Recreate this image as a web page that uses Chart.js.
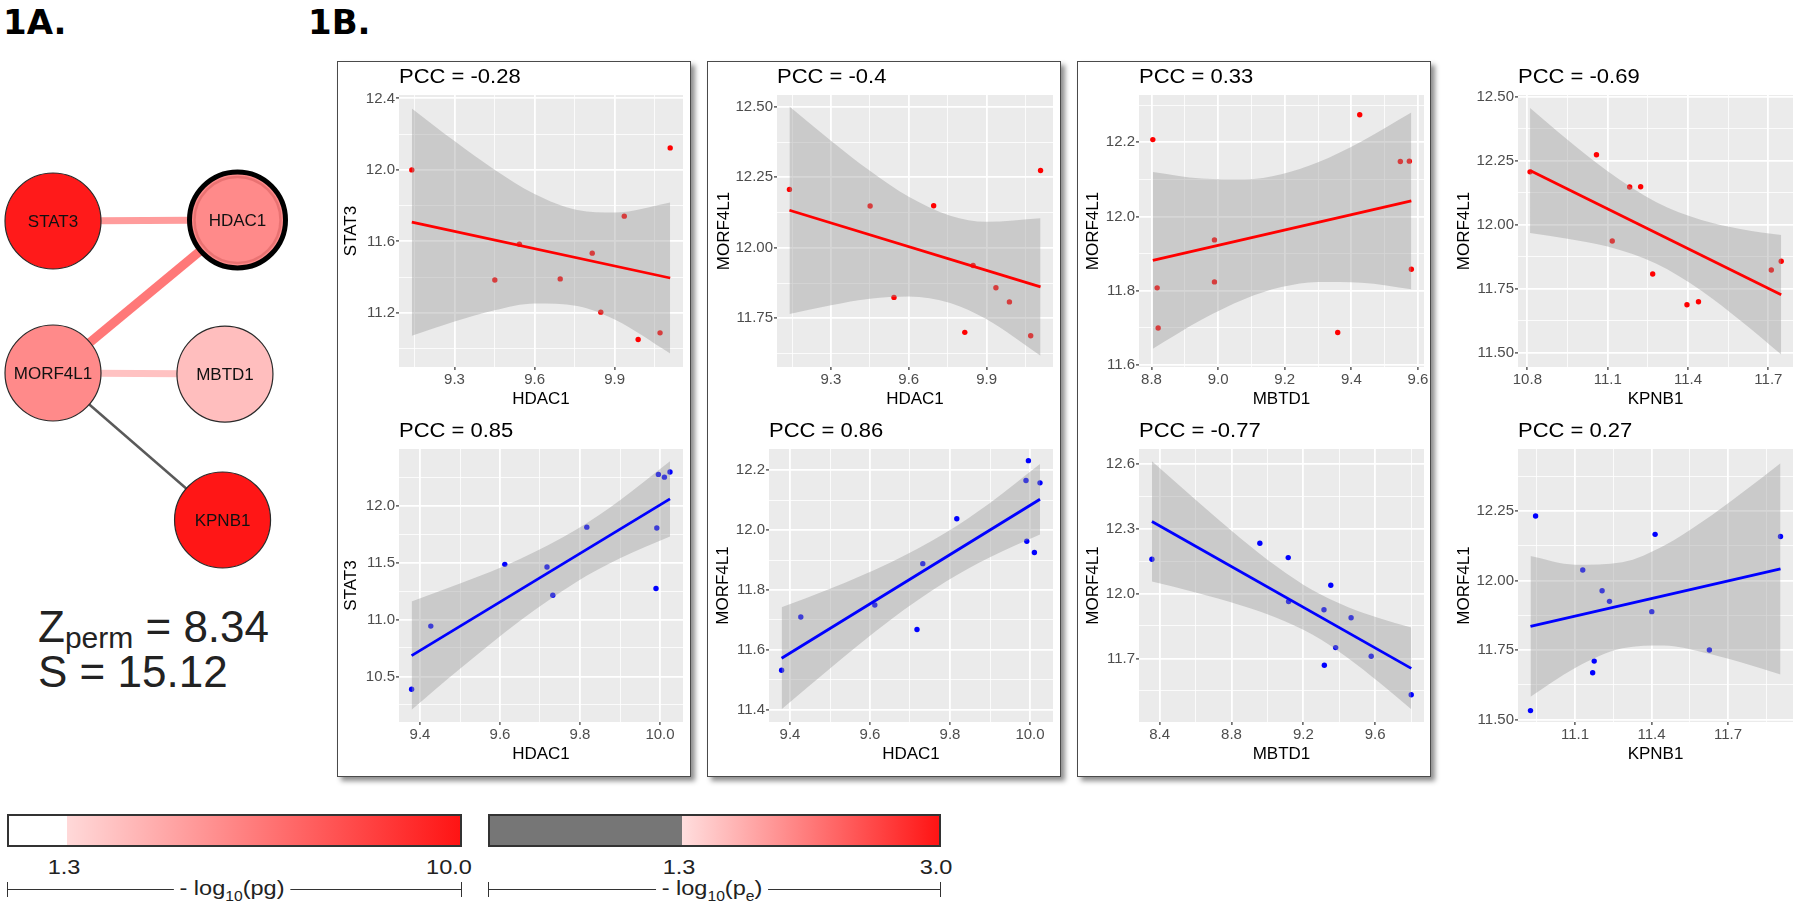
<!DOCTYPE html>
<html>
<head>
<meta charset="utf-8">
<script src="https://cdn.jsdelivr.net/npm/chart.js@4.4.1/dist/chart.umd.min.js"></script>
<style>
html,body{margin:0;padding:0;background:#fff;}
body{width:1800px;height:913px;position:relative;overflow:hidden;font-family:"Liberation Sans",Arial,sans-serif;}
.abs{position:absolute;white-space:nowrap;}
canvas{position:absolute;}
.box{position:absolute;border:1.5px solid #4a4a4a;box-shadow:4px 4px 5px rgba(0,0,0,0.45);background:#fff;}
.lbl{position:absolute;white-space:nowrap;font-size:21px;color:#222;transform:translate(-50%,-50%) scaleX(1.12);}
.brk{position:absolute;border-top:1.6px solid #333;height:0;}
.tk{position:absolute;border-left:1.6px solid #333;width:0;height:15px;}
.big{position:absolute;white-space:nowrap;font:bold 34px 'DejaVu Sans',sans-serif;line-height:34px;color:#000;}
</style>
</head>
<body>
<div class="box" style="left:337px;top:61px;width:352px;height:714px;"></div>
<div class="box" style="left:707px;top:61px;width:352px;height:714px;"></div>
<div class="box" style="left:1077px;top:61px;width:352px;height:714px;"></div>

<div class="big" style="left:3px;top:5px;">1A.</div>
<div class="big" style="left:308px;top:5px;">1B.</div>

<div class="abs" style="left:38px;top:605px;font-size:44px;line-height:44px;color:#222;">Z<span style="font-size:30px;position:relative;top:6px;">perm</span> = 8.34</div>
<div class="abs" style="left:38px;top:650px;font-size:44px;line-height:44px;color:#222;">S = 15.12</div>

<!-- colour bars -->
<div class="abs" style="left:7px;top:814px;width:451px;height:29px;border:2px solid #333;background:linear-gradient(to right,#ffffff 0px,#ffffff 58px,#ffd9d9 58px,#ff1414 100%);"></div>
<div class="abs" style="left:488px;top:814px;width:449px;height:29px;border:2px solid #333;background:linear-gradient(to right,#767676 0px,#767676 192px,#ffdede 192px,#ff1414 100%);"></div>
<div class="lbl" style="left:64px;top:867px;">1.3</div>
<div class="lbl" style="left:449px;top:867px;">10.0</div>
<div class="lbl" style="left:679px;top:867px;">1.3</div>
<div class="lbl" style="left:936px;top:867px;">3.0</div>
<div class="brk" style="left:7px;top:889px;width:455px;"></div>
<div class="tk" style="left:7px;top:882px;"></div>
<div class="tk" style="left:461px;top:882px;"></div>
<div class="lbl" style="left:232px;top:890px;background:#fff;padding:0 5px;">- log<sub style="font-size:14px;">10</sub>(pg)</div>
<div class="brk" style="left:488px;top:889px;width:453px;"></div>
<div class="tk" style="left:488px;top:882px;"></div>
<div class="tk" style="left:940px;top:882px;"></div>
<div class="lbl" style="left:712px;top:890px;background:#fff;padding:0 5px;">- log<sub style="font-size:14px;">10</sub>(p<sub style="font-size:14px;">e</sub>)</div>

<script>
// ================= DATA =================
// Network (1A)
const nodeNames  = ['STAT3', 'HDAC1', 'MORF4L1', 'MBTD1', 'KPNB1'];
const nodeCol    = [0, 1.0, 0, 0.932, 0.919];
const nodeRow    = [0, -0.007, 1.0, 1.007, 1.967];
const nodeColors = ['#FF1A1A', '#FF8A8A', '#FF8A8A', '#FFBEBE', '#FF1616'];
const edgeFrom   = [0, 1, 2, 2];
const edgeTo     = [1, 2, 3, 4];
const edgeColors = ['#FF9C9C', '#FF7878', '#FFC2C2', '#5A5A5A'];
const edgeWidths = [7, 9, 7, 2.5];

// Red group samples (top row)
const hdac1Red   = [9.140, 9.451, 9.543, 9.696, 9.816, 9.848, 9.936, 9.988, 10.070, 10.108];
const stat3Red   = [12.000, 11.384, 11.584, 11.390, 11.534, 11.204, 11.741, 11.051, 11.088, 12.123];
const morf4l1Red = [12.207, 12.148, 11.824, 12.149, 11.700, 11.937, 11.858, 11.808, 11.688, 12.274];
const mbtd1Red   = [8.804, 9.547, 8.989, 9.574, 8.820, 8.989, 9.580, 8.817, 9.359, 9.425];
const kpnb1Red   = [10.810, 11.182, 11.711, 11.223, 11.439, 11.117, 11.748, 11.268, 11.396, 11.058];

// Blue group samples (bottom row)
const hdac1Blue   = [9.379, 9.427, 9.612, 9.7175, 9.732, 9.817, 9.990, 9.992, 9.996, 10.011, 10.025];
const stat3Blue   = [10.388, 10.942, 11.484, 11.461, 11.213, 11.811, 11.272, 11.803, 12.274, 12.250, 12.295];
const morf4l1Blue = [11.532, 11.710, 11.750, 11.668, 11.888, 12.038, 12.166, 11.963, 12.232, 11.925, 12.158];
const mbtd1Blue   = [9.801, 9.578, 9.380, 9.317, 9.466, 9.353, 9.116, 9.118, 8.958, 9.315, 8.357];
const kpnb1Blue   = [10.925, 11.175, 11.627, 11.169, 11.401, 11.130, 11.414, 11.206, 10.945, 11.235, 11.906];

const pccLabels = ['PCC = -0.28', 'PCC = -0.4', 'PCC = 0.33', 'PCC = -0.69', 'PCC = 0.85', 'PCC = 0.86', 'PCC = -0.77', 'PCC = 0.27'];

// Fitted lines (read at both ends) and confidence bands (read at several x)
const p1tFitX = [9.140, 10.108];  const p1tFitY = [11.708, 11.395];
const p1tBandX = [9.14, 9.3, 9.45, 9.6, 9.76, 9.9, 10.108];
const p1tBandHi = [12.344, 12.161, 12.001, 11.865, 11.775, 11.761, 11.817];
const p1tBandLo = [11.072, 11.151, 11.215, 11.253, 11.239, 11.163, 10.973];

const p2tFitX = [9.140, 10.108];  const p2tFitY = [12.133, 11.861];
const p2tBandX = [9.14, 9.3, 9.45, 9.6, 9.76, 9.9, 10.108];
const p2tBandHi = [12.501, 12.380, 12.273, 12.181, 12.114, 12.092, 12.105];
const p2tBandLo = [11.765, 11.796, 11.819, 11.827, 11.804, 11.746, 11.617];

const p3tFitX = [8.804, 9.580];   const p3tFitY = [11.882, 12.042];
const p3tBandX = [8.804, 8.95, 9.08, 9.19, 9.3, 9.43, 9.58];
const p3tBandHi = [12.120, 12.102, 12.100, 12.114, 12.146, 12.202, 12.280];
const p3tBandLo = [11.644, 11.722, 11.778, 11.810, 11.824, 11.822, 11.804];

const p4tFitX = [10.810, 11.748]; const p4tFitY = [12.212, 11.727];
const p4tBandX = [10.81, 10.95, 11.1, 11.28, 11.45, 11.6, 11.748];
const p4tBandHi = [12.456, 12.332, 12.209, 12.089, 12.019, 11.983, 11.960];
const p4tBandLo = [11.968, 11.946, 11.915, 11.849, 11.743, 11.623, 11.494];

const p1bFitX = [9.379, 10.025];  const p1bFitY = [10.683, 12.059];
const p1bBandX = [9.379, 9.5, 9.65, 9.79, 9.9, 10.025];
const p1bBandHi = [11.159, 11.315, 11.531, 11.788, 12.048, 12.389];
const p1bBandLo = [10.207, 10.567, 10.989, 11.328, 11.538, 11.729];

const p2bFitX = [9.379, 10.025];  const p2bFitY = [11.572, 12.103];
const p2bBandX = [9.379, 9.5, 9.65, 9.79, 9.9, 10.025];
const p2bBandHi = [11.742, 11.804, 11.891, 11.992, 12.091, 12.221];
const p2bBandLo = [11.402, 11.538, 11.699, 11.828, 11.909, 11.985];

const p3bFitX = [8.357, 9.801];   const p3bFitY = [12.333, 11.654];
const p3bBandX = [8.357, 8.6, 8.85, 9.05, 9.25, 9.45, 9.62, 9.801];
const p3bBandHi = [12.611, 12.433, 12.256, 12.126, 12.016, 11.937, 11.887, 11.843];
const p3bBandLo = [12.055, 12.005, 11.946, 11.888, 11.810, 11.701, 11.591, 11.465];

const p4bFitX = [10.925, 11.906]; const p4bFitY = [11.835, 12.042];
const p4bBandX = [10.925, 11.1, 11.285, 11.45, 11.6, 11.75, 11.906];
const p4bBandHi = [12.088, 12.057, 12.066, 12.126, 12.212, 12.312, 12.422];
const p4bBandLo = [11.582, 11.685, 11.756, 11.766, 11.742, 11.706, 11.662];

// Axis ranges and ticks
const p1tXLim = [9.092, 10.156];  const p1tYLim = [10.897, 12.419];
const p2tXLim = [9.092, 10.156];  const p2tYLim = [11.577, 12.542];
const p3tXLim = [8.7625, 9.618];  const p3tYLim = [11.595, 12.327];
const p4tXLim = [10.765, 11.792]; const p4tYLim = [11.445, 12.507];
const p1bXLim = [9.3475, 10.0575]; const p1bYLim = [10.10, 12.497];
const p2bXLim = [9.3475, 10.0575]; const p2bYLim = [11.359, 12.271];
const p3bXLim = [8.285, 9.872];   const p3bYLim = [11.406, 12.668];
const p4bXLim = [10.876, 11.955]; const p4bYLim = [11.491, 12.473];

const hdacRedTicks = [9.3, 9.6, 9.9];        const hdacRedMinor = [9.15, 9.45, 9.75, 10.05];
const mbtdRedTicks = [8.8, 9.0, 9.2, 9.4, 9.6]; const mbtdRedMinor = [8.9, 9.1, 9.3, 9.5];
const kpnbRedTicks = [10.8, 11.1, 11.4, 11.7]; const kpnbRedMinor = [10.95, 11.25, 11.55];
const hdacBlueTicks = [9.4, 9.6, 9.8, 10.0]; const hdacBlueMinor = [9.5, 9.7, 9.9];
const mbtdBlueTicks = [8.4, 8.8, 9.2, 9.6];  const mbtdBlueMinor = [8.6, 9.0, 9.4, 9.8];
const kpnbBlueTicks = [11.1, 11.4, 11.7];    const kpnbBlueMinor = [10.95, 11.25, 11.55, 11.85];

const p1tYTicks = [11.2, 11.6, 12.0, 12.4];  const p1tYMinor = [11.0, 11.4, 11.8, 12.2];
const p2tYTicks = [11.75, 12.0, 12.25, 12.5]; const p2tYMinor = [11.625, 11.875, 12.125, 12.375];
const p3tYTicks = [11.6, 11.8, 12.0, 12.2];  const p3tYMinor = [11.7, 11.9, 12.1, 12.3];
const p4tYTicks = [11.5, 11.75, 12.0, 12.25, 12.5]; const p4tYMinor = [11.625, 11.875, 12.125, 12.375];
const p1bYTicks = [10.5, 11.0, 11.5, 12.0];  const p1bYMinor = [10.25, 10.75, 11.25, 11.75, 12.25];
const p2bYTicks = [11.4, 11.6, 11.8, 12.0, 12.2]; const p2bYMinor = [11.5, 11.7, 11.9, 12.1];
const p3bYTicks = [11.7, 12.0, 12.3, 12.6];  const p3bYMinor = [11.55, 11.85, 12.15, 12.45];
const p4bYTicks = [11.5, 11.75, 12.0, 12.25]; const p4bYMinor = [11.625, 11.875, 12.125, 12.375];

// ================= RENDER =================
const FONT = '"Liberation Sans", Arial, sans-serif';
const RED = '#FF0000', BLUE = '#0000FF';

function pts(xs, ys) { return xs.map((x, i) => ({ x: x, y: ys[i] })); }

function axis(lim, majors, minors, dec, fit) {
  const all = majors.concat(minors).filter(v => v >= lim[0] - 1e-9 && v <= lim[1] + 1e-9).sort((a, b) => a - b);
  const isMajor = v => majors.some(m => Math.abs(m - v) < 1e-6);
  return {
    type: 'linear', min: lim[0], max: lim[1],
    afterBuildTicks: s => { s.ticks = all.map(v => ({ value: v })); },
    afterFit: fit,
    ticks: {
      autoSkip: false, maxRotation: 0, minRotation: 0, color: '#4D4D4D',
      font: { family: FONT, size: 15 }, padding: 1,
      callback: v => isMajor(v) ? Number(v).toFixed(dec) : ''
    },
    grid: {
      color: '#FFFFFF',
      lineWidth: c => (c.tick && isMajor(c.tick.value)) ? 1.8 : 0.8,
      drawTicks: true, tickLength: 3, tickWidth: 1.2,
      tickColor: c => (c.tick && isMajor(c.tick.value)) ? '#333333' : 'rgba(0,0,0,0)'
    },
    border: { display: false }
  };
}

function drawStretched(ctx, text, x, y, sx) {
  ctx.save(); ctx.translate(x, y); ctx.scale(sx, 1); ctx.fillText(text, 0, 0); ctx.restore();
}

const panelPlugin = {
  id: 'panel',
  beforeDraw(chart) {
    const a = chart.chartArea, ctx = chart.ctx;
    ctx.save(); ctx.fillStyle = '#EBEBEB';
    ctx.fillRect(a.left, a.top, a.right - a.left, a.bottom - a.top); ctx.restore();
  },
  afterDraw(chart, args, o) {
    const a = chart.chartArea, ctx = chart.ctx;
    ctx.save();
    ctx.fillStyle = '#000';
    ctx.font = '20px ' + FONT; ctx.textAlign = 'left'; ctx.textBaseline = 'alphabetic';
    drawStretched(ctx, o.title, a.left, a.top - 12, 1.1);
    ctx.font = '17px ' + FONT; ctx.textAlign = 'center'; ctx.textBaseline = 'middle';
    ctx.fillText(o.xTitle, (a.left + a.right) / 2, a.bottom + 32);
    ctx.translate(a.left - o.yOff, (a.top + a.bottom) / 2); ctx.rotate(-Math.PI / 2);
    ctx.fillText(o.yTitle, 0, 0);
    ctx.restore();
  }
};

function makePlot(p) {
  const PADL = 75, PADT = 40, PADR = 25, PADB = 50;
  const [l, t, r, b] = p.rect;
  const w = r - l + PADL + PADR, h = b - t + PADT + PADB;
  const cv = document.createElement('canvas');
  cv.width = w; cv.height = h;
  cv.style.left = (l - PADL) + 'px'; cv.style.top = (t - PADT) + 'px';
  cv.style.width = w + 'px'; cv.style.height = h + 'px';
  document.body.appendChild(cv);
  new Chart(cv.getContext('2d'), {
    type: 'scatter',
    data: {
      datasets: [
        { type: 'line', data: pts(p.bandX, p.hi), borderWidth: 0, borderColor: 'rgba(0,0,0,0)', pointRadius: 0,
          fill: '+1', backgroundColor: 'rgba(153,153,153,0.4)', cubicInterpolationMode: 'monotone', order: 2 },
        { type: 'line', data: pts(p.bandX, p.lo), borderWidth: 0, borderColor: 'rgba(0,0,0,0)', pointRadius: 0,
          fill: false, cubicInterpolationMode: 'monotone', order: 2 },
        { type: 'line', data: pts(p.fitX, p.fitY), borderColor: p.col, borderWidth: 2.8, pointRadius: 0, fill: false, order: 1 },
        { type: 'scatter', data: pts(p.x, p.y), backgroundColor: p.col, borderWidth: 0, pointRadius: 2.7, order: 3 }
      ]
    },
    options: {
      responsive: false, animation: false, devicePixelRatio: 1,
      layout: { autoPadding: false, padding: { left: 0, top: PADT, right: PADR, bottom: 0 } },
      plugins: { legend: { display: false }, tooltip: { enabled: false },
        panel: { title: p.title, xTitle: p.xTitle, yTitle: p.yTitle, yOff: p.yOff } },
      scales: {
        x: axis(p.xLim, p.xMaj, p.xMin, 1, s => { s.height = PADB; }),
        y: axis(p.yLim, p.yMaj, p.yMin, p.yDec, s => { s.width = PADL; })
      }
    },
    plugins: [panelPlugin]
  });
}

const PLOTS = [
  { rect: [399, 95, 683, 367], x: hdac1Red, y: stat3Red, col: RED, fitX: p1tFitX, fitY: p1tFitY, bandX: p1tBandX, hi: p1tBandHi, lo: p1tBandLo,
    xLim: p1tXLim, yLim: p1tYLim, xMaj: hdacRedTicks, xMin: hdacRedMinor, yMaj: p1tYTicks, yMin: p1tYMinor, yDec: 1,
    title: pccLabels[0], xTitle: 'HDAC1', yTitle: 'STAT3', yOff: 48 },
  { rect: [777, 95, 1053, 367], x: hdac1Red, y: morf4l1Red, col: RED, fitX: p2tFitX, fitY: p2tFitY, bandX: p2tBandX, hi: p2tBandHi, lo: p2tBandLo,
    xLim: p2tXLim, yLim: p2tYLim, xMaj: hdacRedTicks, xMin: hdacRedMinor, yMaj: p2tYTicks, yMin: p2tYMinor, yDec: 2,
    title: pccLabels[1], xTitle: 'HDAC1', yTitle: 'MORF4L1', yOff: 53 },
  { rect: [1139, 95, 1424, 367], x: mbtd1Red, y: morf4l1Red, col: RED, fitX: p3tFitX, fitY: p3tFitY, bandX: p3tBandX, hi: p3tBandHi, lo: p3tBandLo,
    xLim: p3tXLim, yLim: p3tYLim, xMaj: mbtdRedTicks, xMin: mbtdRedMinor, yMaj: p3tYTicks, yMin: p3tYMinor, yDec: 1,
    title: pccLabels[2], xTitle: 'MBTD1', yTitle: 'MORF4L1', yOff: 46 },
  { rect: [1518, 95, 1793, 367], x: kpnb1Red, y: morf4l1Red, col: RED, fitX: p4tFitX, fitY: p4tFitY, bandX: p4tBandX, hi: p4tBandHi, lo: p4tBandLo,
    xLim: p4tXLim, yLim: p4tYLim, xMaj: kpnbRedTicks, xMin: kpnbRedMinor, yMaj: p4tYTicks, yMin: p4tYMinor, yDec: 2,
    title: pccLabels[3], xTitle: 'KPNB1', yTitle: 'MORF4L1', yOff: 54 },
  { rect: [399, 449, 683, 722], x: hdac1Blue, y: stat3Blue, col: BLUE, fitX: p1bFitX, fitY: p1bFitY, bandX: p1bBandX, hi: p1bBandHi, lo: p1bBandLo,
    xLim: p1bXLim, yLim: p1bYLim, xMaj: hdacBlueTicks, xMin: hdacBlueMinor, yMaj: p1bYTicks, yMin: p1bYMinor, yDec: 1,
    title: pccLabels[4], xTitle: 'HDAC1', yTitle: 'STAT3', yOff: 48 },
  { rect: [769, 449, 1053, 722], x: hdac1Blue, y: morf4l1Blue, col: BLUE, fitX: p2bFitX, fitY: p2bFitY, bandX: p2bBandX, hi: p2bBandHi, lo: p2bBandLo,
    xLim: p2bXLim, yLim: p2bYLim, xMaj: hdacBlueTicks, xMin: hdacBlueMinor, yMaj: p2bYTicks, yMin: p2bYMinor, yDec: 1,
    title: pccLabels[5], xTitle: 'HDAC1', yTitle: 'MORF4L1', yOff: 46 },
  { rect: [1139, 449, 1424, 722], x: mbtd1Blue, y: morf4l1Blue, col: BLUE, fitX: p3bFitX, fitY: p3bFitY, bandX: p3bBandX, hi: p3bBandHi, lo: p3bBandLo,
    xLim: p3bXLim, yLim: p3bYLim, xMaj: mbtdBlueTicks, xMin: mbtdBlueMinor, yMaj: p3bYTicks, yMin: p3bYMinor, yDec: 1,
    title: pccLabels[6], xTitle: 'MBTD1', yTitle: 'MORF4L1', yOff: 46 },
  { rect: [1518, 449, 1793, 722], x: kpnb1Blue, y: morf4l1Blue, col: BLUE, fitX: p4bFitX, fitY: p4bFitY, bandX: p4bBandX, hi: p4bBandHi, lo: p4bBandLo,
    xLim: p4bXLim, yLim: p4bYLim, xMaj: kpnbBlueTicks, xMin: kpnbBlueMinor, yMaj: p4bYTicks, yMin: p4bYMinor, yDec: 2,
    title: pccLabels[7], xTitle: 'KPNB1', yTitle: 'MORF4L1', yOff: 54 }
];
PLOTS.forEach(makePlot);

// ---------- network (1A) ----------
(function () {
  const W = 330, H = 600;
  const cv = document.createElement('canvas');
  cv.width = W; cv.height = H; cv.style.left = '0px'; cv.style.top = '0px';
  cv.style.width = W + 'px'; cv.style.height = H + 'px';
  document.body.appendChild(cv);
  const colPx = 184.5, rowPx = 152, x0 = 53, y0 = 221;
  const edgeSets = edgeFrom.map((f, i) => ({
    type: 'line', data: [{ x: nodeCol[f], y: nodeRow[f] }, { x: nodeCol[edgeTo[i]], y: nodeRow[edgeTo[i]] }],
    borderColor: edgeColors[i], borderWidth: edgeWidths[i], pointRadius: 0, fill: false, order: 3, clip: false
  }));
  const nodeSet = {
    type: 'scatter', data: pts(nodeCol, nodeRow), order: 2, clip: false,
    pointRadius: 48, backgroundColor: nodeColors,
    borderColor: nodeNames.map((n, i) => i === 1 ? '#000000' : '#2a2a2a'),
    borderWidth: nodeNames.map((n, i) => i === 1 ? 5 : 1.2)
  };
  const ringSet = {
    type: 'scatter', data: [{ x: nodeCol[1], y: nodeRow[1] }], order: 1, clip: false,
    pointRadius: 43, backgroundColor: 'rgba(0,0,0,0)', borderColor: 'rgba(215,95,95,0.55)', borderWidth: 2.5
  };
  const labelPlugin = {
    id: 'nodeLabels',
    afterDatasetsDraw(chart) {
      const ctx = chart.ctx, sx = chart.scales.x, sy = chart.scales.y;
      ctx.save(); ctx.fillStyle = '#111'; ctx.font = '17px ' + FONT;
      ctx.textAlign = 'center'; ctx.textBaseline = 'middle';
      nodeNames.forEach((n, i) => ctx.fillText(n, sx.getPixelForValue(nodeCol[i]), sy.getPixelForValue(nodeRow[i]) + 1));
      ctx.restore();
    }
  };
  new Chart(cv.getContext('2d'), {
    type: 'scatter',
    data: { datasets: edgeSets.concat([nodeSet, ringSet]) },
    options: {
      responsive: false, animation: false, devicePixelRatio: 1,
      layout: { autoPadding: false, padding: 0 },
      plugins: { legend: { display: false }, tooltip: { enabled: false } },
      scales: {
        x: { type: 'linear', display: false, min: -x0 / colPx, max: (W - x0) / colPx },
        y: { type: 'linear', display: false, reverse: true, min: -y0 / rowPx, max: (H - y0) / rowPx }
      }
    },
    plugins: [labelPlugin]
  });
})();
</script>
</body>
</html>
